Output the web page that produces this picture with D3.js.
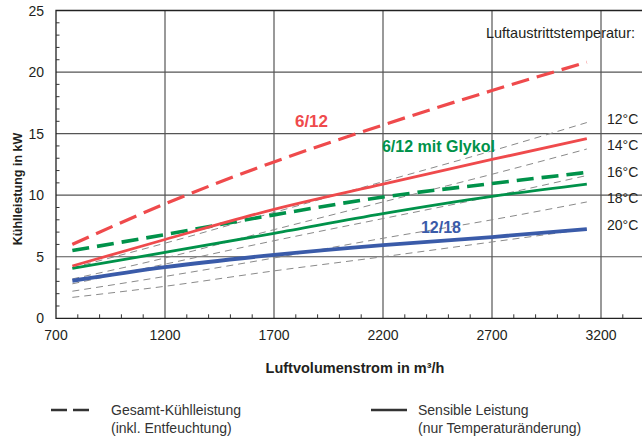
<!DOCTYPE html>
<html>
<head>
<meta charset="utf-8">
<script src="https://cdn.jsdelivr.net/npm/d3@7"></script>
<style>
  html, body { margin: 0; padding: 0; background: #fff; }
  svg { display: block; font-family: "Liberation Sans", Arial, sans-serif; }
</style>
</head>
<body>
<svg id="chart" width="642" height="436"></svg>
<script>
// Airflow sample points (m³/h)
const airflow = [775, 1200, 1700, 2200, 2700, 3135];

// Cooling capacity curves (kW)
const total612        = [6.0, 9.3, 12.7, 15.7, 18.5, 20.8];   // 6/12, total (dashed)
const sensible612     = [4.25, 6.4, 8.85, 10.9, 12.9, 14.6];  // 6/12, sensible
const totalGlycol     = [5.5, 6.8, 8.4, 9.85, 10.95, 11.85];  // 6/12 with glycol, total (dashed)
const sensibleGlycol  = [4.05, 5.35, 6.9, 8.5, 9.9, 10.9];    // 6/12 with glycol, sensible
const sensible1218    = [3.05, 4.15, 5.15, 5.95, 6.6, 7.25];  // 12/18, sensible

// Air outlet temperature reference lines (kW)
const outletLabels = ["12°C", "14°C", "16°C", "18°C", "20°C"];
const outlet12 = [4.1, 6.1, 8.6, 11.1, 13.6, 15.9];
const outlet14 = [3.2, 4.9, 7.2, 9.45, 11.7, 13.75];
const outlet16 = [2.8, 4.4, 6.3, 8.1, 9.9, 11.6];
const outlet18 = [2.2, 3.4, 4.9, 6.5, 8.0, 9.45];
const outlet20 = [1.7, 2.6, 3.85, 5.0, 6.2, 7.25];

// Axis ticks
const xTicks = [700, 1200, 1700, 2200, 2700, 3200];
const yTicks = [0, 5, 10, 15, 20, 25];

const svg = d3.select("#chart");
const plotLeft = 56, plotTop = 10.5, plotBottom = 318.3;
const x = d3.scaleLinear().domain([700, 3400]).range([plotLeft, plotLeft + 2700 * 0.218]);
const y = d3.scaleLinear().domain([0, 25]).range([plotBottom, plotTop]);
const plotRight = x(3400);

const ink = "#231f20";

// Grid
const grid = svg.append("g");
grid.selectAll("line.v").data(xTicks.slice(1)).join("line")
  .attr("x1", d => x(d)).attr("x2", d => x(d))
  .attr("y1", y(0)).attr("y2", y(25))
  .attr("stroke", "#555").attr("stroke-width", 1.2);
grid.selectAll("line.h").data(yTicks.slice(1, -1)).join("line")
  .attr("x1", x(700)).attr("x2", plotRight)
  .attr("y1", d => y(d)).attr("y2", d => y(d))
  .attr("stroke", "#555").attr("stroke-width", 1.2);

// Frame (top, left, bottom)
svg.append("path")
  .attr("d", `M${plotRight},${y(25)}H${x(700)}V${y(0)}H${plotRight}`)
  .attr("fill", "none").attr("stroke", "#222").attr("stroke-width", 1.3);

// Minor ticks pointing inwards
const xMinor = d3.range(800, 3400, 100).filter(v => v % 500 !== 200);
svg.append("g").selectAll("line").data(xMinor).join("line")
  .attr("x1", d => x(d)).attr("x2", d => x(d))
  .attr("y1", y(0)).attr("y2", y(0) - 4)
  .attr("stroke", "#333").attr("stroke-width", 1);
const yMinor = d3.range(1, 25).filter(v => v % 5 !== 0);
svg.append("g").selectAll("line").data(yMinor).join("line")
  .attr("x1", x(700)).attr("x2", x(700) + 3.5)
  .attr("y1", d => y(d)).attr("y2", d => y(d))
  .attr("stroke", "#333").attr("stroke-width", 1);

// Tick labels
svg.append("g").selectAll("text").data(yTicks).join("text")
  .attr("x", 44).attr("y", d => y(d)).attr("dy", "0.36em")
  .attr("text-anchor", "end").attr("font-size", 14).attr("fill", ink)
  .text(d => d);
svg.append("g").selectAll("text").data(xTicks).join("text")
  .attr("x", d => x(d)).attr("y", 340)
  .attr("text-anchor", "middle").attr("font-size", 14).attr("fill", ink)
  .text(d => d);

// Axis titles
svg.append("text")
  .attr("transform", "translate(22,189) rotate(-90)")
  .attr("text-anchor", "middle").attr("font-size", 12.5).attr("font-weight", "bold")
  .attr("fill", ink).text("Kühlleistung in kW");
svg.append("text")
  .attr("x", 355).attr("y", 373)
  .attr("text-anchor", "middle").attr("font-size", 14.5).attr("font-weight", "bold")
  .attr("fill", ink).text("Luftvolumenstrom in m³/h");

const line = d3.line().x((d, i) => x(airflow[i])).y(d => y(d)).curve(d3.curveMonotoneX);

// Outlet temperature reference lines
const outletSeries = [outlet12, outlet14, outlet16, outlet18, outlet20];
svg.append("g").selectAll("path").data(outletSeries).join("path")
  .attr("d", line).attr("fill", "none")
  .attr("stroke", "#8a8a8a").attr("stroke-width", 1)
  .attr("stroke-dasharray", "7,5");

svg.append("text")
  .attr("x", 635).attr("y", 38).attr("text-anchor", "end")
  .attr("font-size", 14.5).attr("fill", ink).text("Luftaustrittstemperatur:");
svg.append("g").selectAll("text").data(outletSeries).join("text")
  .attr("x", 607).attr("y", d => y(d[d.length - 1]) - 4).attr("dy", "0.36em")
  .attr("font-size", 14).attr("fill", ink)
  .text((d, i) => outletLabels[i]);

// Capacity curves
const red = "#ef4a4c", green = "#00924a", blue = "#3a5ba9";
const curves = [
  { values: sensible1218,   color: blue,  width: 3.8, dash: null },
  { values: sensibleGlycol, color: green, width: 2.8, dash: null },
  { values: totalGlycol,    color: green, width: 3.6, dash: "17,8" },
  { values: sensible612,    color: red,   width: 2.8, dash: null },
  { values: total612,       color: red,   width: 3.2, dash: "18,8" }
];
svg.append("g").selectAll("path").data(curves).join("path")
  .attr("d", d => line(d.values)).attr("fill", "none")
  .attr("stroke", d => d.color).attr("stroke-width", d => d.width)
  .attr("stroke-dasharray", d => d.dash);

// Curve labels (anchored in data coordinates)
const curveLabels = [
  { text: "6/12",            color: red,   at: [1796, 15.55], size: 17 },
  { text: "6/12 mit Glykol", color: green, at: [2195, 13.52], size: 16 },
  { text: "12/18",           color: blue,  at: [2374, 6.93],  size: 16 }
];
svg.append("g").selectAll("text").data(curveLabels).join("text")
  .attr("x", d => x(d.at[0])).attr("y", d => y(d.at[1]))
  .attr("font-size", d => d.size).attr("font-weight", "bold")
  .attr("fill", d => d.color).text(d => d.text);

// Legend
const legend = svg.append("g");
legend.append("line").attr("x1", 51).attr("x2", 89).attr("y1", 410).attr("y2", 410)
  .attr("stroke", "#333").attr("stroke-width", 2.6).attr("stroke-dasharray", "16,6");
legend.append("text").attr("x", 111).attr("y", 415).attr("font-size", 14).attr("fill", "#333")
  .text("Gesamt-Kühlleistung");
legend.append("text").attr("x", 111).attr("y", 433).attr("font-size", 14).attr("fill", "#333")
  .text("(inkl. Entfeuchtung)");
legend.append("line").attr("x1", 371).attr("x2", 407).attr("y1", 410).attr("y2", 410)
  .attr("stroke", "#333").attr("stroke-width", 2.6);
legend.append("text").attr("x", 418).attr("y", 415).attr("font-size", 14).attr("fill", "#333")
  .text("Sensible Leistung");
legend.append("text").attr("x", 418).attr("y", 433).attr("font-size", 14).attr("fill", "#333")
  .text("(nur Temperaturänderung)");
</script>
</body>
</html>
